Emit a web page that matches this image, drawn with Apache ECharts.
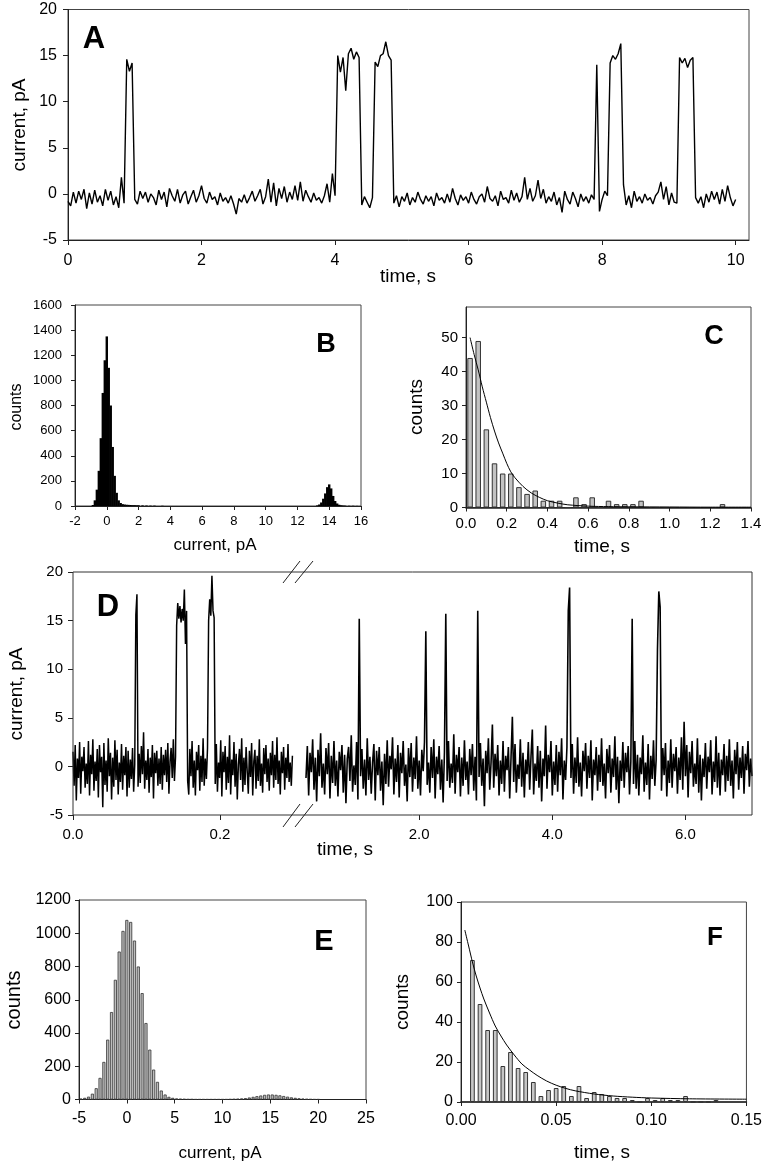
<!DOCTYPE html>
<html><head><meta charset="utf-8">
<script src="https://cdn.jsdelivr.net/npm/echarts@6.0.0/dist/echarts.min.js"></script>
<style>html,body{margin:0;padding:0;background:#fff}#c{width:765px;height:1166px}</style>
</head><body><div id="c"></div>
<script>
// ---------- Panel A: current trace, 10 s, sampled every 0.04 s ----------
const aStep = 0.04;
const aCurrent = [
 -0.8,-1.3,0.2,-1.0,0.3,-0.6,0.5,-1.6,0.1,-1.1,
 0.4,-0.9,-0.2,-1.3,0.5,-0.7,0.3,-1.2,-0.3,-1.5,
 1.8,-1.0,14.6,13.3,14.2,-0.6,-1.1,0.3,-0.5,0.2,
 -0.9,0.0,-0.4,-1.2,0.4,-0.6,0.2,-1.4,0.6,-0.2,
 -0.8,0.5,-1.0,-0.1,0.3,-1.1,-0.3,0.4,-0.9,-0.2,
 0.9,-0.5,-1.0,0.2,-0.6,-0.3,-1.2,0.1,-0.8,-0.4,
 -1.0,-0.2,-1.1,-2.2,-0.5,-0.9,-0.1,-1.0,-0.4,0.3,
 -0.8,-0.2,0.5,-1.1,-0.3,1.6,-0.9,1.2,-1.3,0.6,
 -0.5,0.8,-0.9,0.2,-0.6,0.9,-0.7,1.3,-0.8,0.4,
 -0.3,-0.9,0.1,-0.7,-0.4,-1.0,-0.2,1.1,-0.9,2.2,
 -0.2,15.0,13.2,14.8,11.2,15.2,15.8,14.6,15.4,14.8,
 -1.2,-0.3,-0.9,-1.5,-0.4,14.3,13.8,15.0,15.2,16.5,
 15.0,14.5,-1.0,-0.2,-1.4,-0.3,-0.8,0.1,-1.2,-0.4,
 -0.9,0.2,-0.6,-1.1,-0.2,-0.8,-0.3,-1.3,0.1,-0.7,
 -0.4,-1.0,0.0,-0.9,0.6,-0.5,-1.2,-0.1,-0.7,-0.3,
 -1.0,0.2,-0.6,-1.1,-0.3,0.0,-0.9,0.8,-0.5,-0.8,
 -0.2,-1.3,0.3,-0.6,-0.4,-1.0,0.4,-0.7,0.1,-0.9,
 -0.3,1.8,-0.6,0.6,-0.8,-0.2,1.5,-0.5,0.5,-1.0,
 -0.3,-0.8,0.2,-1.2,-0.4,-2.0,0.3,-0.6,-1.1,0.2,
 -0.5,-1.4,0.0,-0.8,-0.3,-1.0,-0.1,-0.6,14.0,-1.9,
 -0.6,0.3,-0.2,14.2,15.0,14.6,15.2,16.3,1.0,-1.2,
 -0.2,-1.5,0.3,-0.8,-0.3,-1.0,0.0,-0.7,-0.4,-1.1,
 -0.2,0.2,1.3,-0.6,0.8,-1.2,0.1,-0.9,-1.0,14.8,
 14.2,14.7,13.7,14.5,14.8,-0.4,-1.0,-0.3,-1.5,0.0,
 -0.9,0.3,-0.6,0.2,-1.1,0.5,-0.8,0.9,-0.4,-1.3,
 -0.6
];

// ---------- Panel B: all-points current histogram ----------
const bCurrent = [-0.875,-0.75,-0.625,-0.5,-0.375,-0.25,-0.125,0,0.125,0.25,
 0.375,0.5,0.625,0.75,0.875,1,1.125,1.25,1.375,1.5,
 1.625,1.75,1.875,2,2.25,2.5,2.75,3,3.5,13.25,
 13.375,13.5,13.625,13.75,13.875,14,14.125,14.25,14.375,14.5,
 14.625,14.75,14.875,15,15.25,15.5,15.75];
const bCounts = [8,45,130,280,540,900,1160,1350,1100,800,
 470,240,105,45,24,15,12,10,9,8,
 7,7,6,6,5,4,3,3,2,5,
 12,28,58,100,150,172,140,80,40,20,
 10,6,4,3,2,2,1];

// ---------- Panel C: dwell-time histogram + fit ----------
const cTime = [0.02,0.06,0.10,0.14,0.18,0.22,0.26,0.30,0.34,0.38,0.42,0.46,0.50,0.54,0.58,0.62,
 0.66,0.70,0.74,0.78,0.82,0.86,0.90,0.94,0.98,1.02,1.06,1.10,1.14,1.18,1.22,1.26];
const cCounts = [44,49,23,13,10,10,6,4,5,2,2,2,0,3,1,3,0,2,1,1,1,2,0,0,0,0,0,0,0,0,0,1];
const cFitTime = [0.02,0.04,0.06,0.08,0.10,0.12,0.14,0.16,0.18,0.20,0.22,0.24,0.28,0.32,0.36,0.40,0.45,0.50,0.60,0.70,0.80,1.00,1.20,1.40];
const cFitCounts = [50,45,40.5,35.5,31,26.5,22.5,19,16,13,10.5,8.8,6.2,4.3,3.0,2.0,1.3,0.8,0.4,0.25,0.2,0.15,0.1,0.1];

// ---------- Panel D: trace with broken time axis ----------
const d1Step = 0.0015;  // segment 1 : 0 .. 0.3 s
const d1Current = [
 1.5,-2.0,2.2,-3.5,0.8,-1.2,2.5,-2.8,1.0,-0.5,2.0,-2.2,0.3,-1.8,2.6,-3.0,1.2,-0.8,2.8,-2.5,
 0.5,-1.5,1.8,-3.2,2.2,-0.6,1.0,-4.2,2.4,-1.9,0.6,-2.6,2.9,-1.0,1.4,-3.4,0.9,-2.1,2.7,-1.4,
 1.7,-2.9,0.4,-1.6,2.3,-2.4,1.1,-0.9,2.0,-3.1,1.6,-2.2,0.7,-1.3,1.9,-2.6,0.2,15.6,17.7,-2.1,
 1.3,-1.7,2.1,-0.8,3.5,-2.3,0.6,-1.4,1.8,-2.7,0.9,-1.1,2.2,-3.3,1.4,-0.7,1.6,-2.0,0.8,-1.8,
 2.0,-2.4,1.2,-0.9,1.7,-1.6,2.4,-2.8,0.5,1.9,-1.2,2.8,-1.5,1.0,14.5,16.8,15.2,16.5,14.8,16.2,
 15.0,18.2,12.6,16.0,-1.5,-2.9,1.8,-1.0,2.6,-2.2,0.6,-3.0,1.5,-0.4,2.2,-2.5,1.1,-1.6,2.9,-2.0,
 0.8,-1.3,1.9,15.0,17.2,15.5,19.6,16.0,15.3,-1.8,2.3,-2.6,0.4,-1.2,2.7,-3.1,1.5,-0.6,2.1,-2.4,
 1.0,-1.7,3.2,-2.9,0.7,-0.9,2.5,-2.1,1.3,-3.4,0.2,1.8,-1.4,2.9,-2.6,0.9,-1.9,2.0,-0.5,-2.8,
 1.6,-1.1,2.4,-3.0,0.5,1.7,-2.3,1.1,-1.5,2.8,-2.0,0.3,-2.7,1.9,-0.8,2.2,-1.6,0.8,-2.5,1.4,
 -0.9,2.6,-2.2,1.2,-1.4,3.0,-1.8,0.6,-2.9,1.5,-0.7,2.0,-2.4,0.9,-1.2,2.3,-1.6,0.4,-2.0,1.1
];
const d2Start = 0.3, d2Step = 0.02;  // segment 2 : 0.3 .. 7.0 s
const d2Current = [
 -1.2,2.1,-3.0,1.4,-0.6,2.8,-2.4,0.9,-3.6,1.7,-1.0,3.4,-2.2,0.3,-2.9,1.9,-0.8,2.4,-3.3,1.1,
 -1.7,2.6,-2.0,0.6,-3.1,1.5,-0.4,2.2,-2.7,1.2,-3.8,0.8,2.0,-1.5,3.2,-2.6,0.1,-1.9,2.5,-3.4,
 15.2,-1.0,1.8,-2.3,0.7,-3.0,2.9,-1.4,1.0,-2.8,0.4,2.3,-3.5,1.6,-0.9,2.0,-2.5,0.5,-4.0,1.3,
 -1.8,2.7,-2.1,1.1,-0.3,3.0,-2.9,0.8,-1.6,2.2,-3.2,1.4,-0.7,2.6,-2.0,0.2,-3.6,1.9,-1.1,2.4,
 -2.6,0.9,-1.3,3.1,-2.3,0.6,-3.0,1.7,-0.5,2.5,13.9,-1.9,0.4,-2.7,2.0,-1.2,2.8,-3.3,1.0,-0.8,
 2.1,-2.4,0.7,-3.7,1.5,15.7,-1.5,2.6,-2.2,0.3,-1.7,3.3,-2.8,1.2,-0.6,2.0,-3.1,0.9,-2.0,2.7,
 -1.4,0.5,-2.9,1.8,-0.9,2.3,-2.5,1.0,-3.5,16.0,-1.1,2.4,-2.0,0.8,-4.1,1.6,-0.7,2.9,-2.4,0.4,
 4.3,-2.2,1.3,-1.0,2.2,-3.0,0.6,-1.8,2.6,-2.6,1.1,-0.4,2.0,-3.3,0.9,5.1,-1.6,2.3,-2.7,0.2,
 -1.3,2.8,-2.1,1.4,-3.2,0.7,-0.8,2.5,-2.4,1.0,3.8,-2.9,0.3,-1.5,2.1,-2.2,1.6,-3.6,0.8,-1.0,
 4.2,-2.3,1.2,-0.6,2.6,-3.0,0.5,-1.9,2.2,-2.6,1.5,-0.9,2.9,-3.4,0.6,-1.4,2.0,16.0,18.4,-1.2,
 2.3,-2.8,0.9,-1.7,3.0,-2.1,0.4,-3.1,1.6,-0.5,2.4,-2.3,1.1,-1.2,2.7,-3.5,0.7,-0.9,2.0,-2.5,
 1.2,-1.6,2.9,-2.0,0.3,-3.3,1.8,-0.7,2.2,-2.7,0.8,-1.1,3.1,-2.4,1.0,-3.8,0.6,-1.5,2.5,-2.2,
 1.4,-0.6,2.1,-2.9,0.5,15.2,-1.8,2.6,-2.3,1.2,-3.0,0.9,-0.8,3.2,-2.6,0.4,-1.9,2.3,-3.4,1.1,
 -1.3,2.7,-2.0,0.7,12.0,18.0,16.4,-2.5,1.9,-0.9,2.4,-3.1,0.6,-1.7,2.8,-2.2,1.3,-0.5,2.0,-2.8,
 0.9,-1.4,3.0,-2.4,4.6,-1.0,2.2,-3.2,1.5,-0.7,2.6,-2.1,0.3,-1.8,2.9,-2.7,1.2,-3.5,0.8,-1.1,
 2.4,-2.3,1.0,-0.6,2.7,-2.9,0.5,-1.6,3.1,-2.2,1.4,-3.0,0.7,-0.9,2.3,-2.6,1.1,-1.5,2.8,-2.0,
 0.6,-3.3,1.7,-0.8,2.5,-2.4,0.9,-1.2,2.1,-2.8,1.3,-0.4,2.6,-2.1,0.8,-1.0
];

// ---------- Panel E: all-points current histogram ----------
const eCurrent = [-4.8,-4.4,-4.0,-3.6,-3.2,-2.8,-2.4,-2.0,-1.6,-1.2,-0.8,-0.4,0,0.4,0.8,1.2,1.6,2.0,2.4,2.8,
 3.2,3.6,4.0,4.4,4.8,5.2,5.6,6.0,6.4,6.8,7.2,7.6,8.0,8.4,8.8,9.2,9.6,10.0,10.4,10.8,
 11.2,11.6,12.0,12.4,12.8,13.2,13.6,14.0,14.4,14.8,15.2,15.6,16.0,16.4,16.8,17.2,17.6,18.0,18.4,18.8,
 19.2,19.6,20.0];
const eCounts = [5,10,17,35,68,130,226,360,526,720,890,1014,1080,1068,956,800,640,460,300,180,
 106,54,30,16,10,6,4,3,2,2,1,1,1,1,1,1,1,1,1,2,
 3,4,6,8,12,16,20,24,28,30,30,28,25,21,17,13,10,7,5,3,
 2,1,1];

// ---------- Panel F: dwell-time histogram + fit ----------
const fTime = [0.006,0.010,0.014,0.018,0.022,0.026,0.030,0.034,0.038,0.042,0.046,0.050,0.054,0.058,0.062,0.066,
 0.070,0.074,0.078,0.082,0.086,0.090,0.094,0.098,0.102,0.106,0.110,0.114,0.118,0.122,0.126,0.130,0.134];
const fCounts = [71,49,36,36,18,25,17,15,10,3,6,7,8,3,8,2,5,4,3,2,2,1,0,2,1,2,1,1,3,0,0,0,1];
const fFitTime = [0.002,0.004,0.006,0.008,0.010,0.012,0.015,0.018,0.021,0.024,0.028,0.032,0.036,0.040,0.045,0.050,0.055,0.060,0.070,0.080,0.090,0.100,0.120,0.150];
const fFitCounts = [86,78,70,63,57,51.5,44.5,38,33,28.5,23.5,19,16,13.3,10.5,8.4,6.8,5.6,4,3,2.4,2,1.6,1.4];

// ---------- tick label lists ----------
const aTimeTicks = [0,2,4,6,8,10];
const aCurTicks = [-5,0,5,10,15,20];
const bCurTicks = [-2,0,2,4,6,8,10,12,14,16];
const bCountTicks = [0,200,400,600,800,1000,1200,1400,1600];
const cTimeTicks = [0,0.2,0.4,0.6,0.8,1.0,1.2,1.4];
const cCountTicks = [0,10,20,30,40,50];
const d1TimeTicks = [0,0.2];
const d2TimeTicks = [2,4,6];
const dCurTicks = [-5,0,5,10,15,20];
const eCurTicks = [-5,0,5,10,15,20,25];
const eCountTicks = [0,200,400,600,800,1000,1200];
const fTimeTicks = [0,0.05,0.10,0.15];
const fCountTicks = [0,20,40,60,80,100];

const FONT = '"Liberation Sans", Arial, Helvetica, sans-serif';
const zip = (xs, ys) => xs.map((x, i) => [x, ys[i]]);

function ax(g, min, max, ticks, fs, margin, fmt, o) {
  o = o || {};
  return {
    type: 'value', gridIndex: g, min: min, max: max, show: o.hide ? false : true,
    axisLine: {show: o.noLine ? false : true, onZero: false, lineStyle: {color: '#222', width: o.lw || 1}},
    axisTick: {show: true, inside: false, length: o.tl || 4, customValues: ticks, lineStyle: {color: '#222'}},
    axisLabel: {customValues: ticks, margin: margin, fontSize: fs, color: '#000', fontFamily: FONT,
      formatter: fmt || (v => String(v))},
    splitLine: {show: false}
  };
}
const f1 = v => v.toFixed(1), f2 = v => v.toFixed(2);
const frame = {show: true, borderColor: '#444', borderWidth: 1};

const grids = [
  Object.assign({left: 68, top: 9.5, width: 681, height: 230.5}, frame),   // A
  Object.assign({left: 75, top: 305, width: 286, height: 201}, frame),     // B
  Object.assign({left: 466, top: 307, width: 285, height: 200.5}, frame),  // C
  {left: 73, top: 572, width: 220, height: 243},                           // D1
  {left: 306, top: 572, width: 446, height: 243},                          // D2
  Object.assign({left: 79, top: 900, width: 287, height: 199.5}, frame),   // E
  Object.assign({left: 461, top: 902, width: 286, height: 200}, frame)     // F
];

const xAxes = [
  ax(0, 0, 10.2, aTimeTicks, 16, 13, null, {tl: 5}),
  ax(1, -2, 16, bCurTicks, 13, 9),
  ax(2, 0, 1.4, cTimeTicks, 15, 9, f1, {lw: 1.5}),
  ax(3, 0, 0.2993, d1TimeTicks, 15, 12, f1, {noLine: true, tl: 5}),
  ax(4, d2Start, 7.0, d2TimeTicks, 15, 12, f1, {noLine: true, tl: 5}),
  ax(5, -5, 25, eCurTicks, 16, 11),
  ax(6, 0, 0.15, fTimeTicks, 16, 11, f2, {lw: 1.5})
];
const yAxes = [
  ax(0, -5, 20, aCurTicks, 16, 11, null, {tl: 5}),
  ax(1, 0, 1600, bCountTicks, 13, 13),
  ax(2, 0, 59, cCountTicks, 15, 8),
  ax(3, -5, 20, dCurTicks, 15, 10, null, {noLine: true, tl: 5}),
  ax(4, -5, 20, dCurTicks, 15, 10, null, {hide: true}),
  ax(5, 0, 1200, eCountTicks, 16, 8),
  ax(6, 0, 100, fCountTicks, 16, 8)
];

const lineS = (xi, data, extra) => Object.assign({type: 'line', xAxisIndex: xi, yAxisIndex: xi, data: data,
  symbol: 'none', showSymbol: false, lineStyle: {color: '#000', width: 1}, itemStyle: {color: '#000'},
  animation: false, silent: true}, extra || {});
const barS = (xi, data, w, style) => ({type: 'bar', xAxisIndex: xi, yAxisIndex: xi, data: data,
  barWidth: w, itemStyle: style, animation: false, silent: true});

const series = [
  lineS(0, aCurrent.map((v, i) => [+(i * aStep).toFixed(4), v]), {lineStyle: {color: '#000', width: 1.4}}),
  barS(1, zip(bCurrent, bCounts), 2.4, {color: '#000'}),
  barS(2, zip(cTime, cCounts), 5.5, {color: '#c3c3c3', borderColor: '#333', borderWidth: 1}),
  lineS(2, zip(cFitTime, cFitCounts), {smooth: 0.3}),
  lineS(3, d1Current.map((v, i) => [+(i * d1Step).toFixed(5), v]), {lineStyle: {color: '#000', width: 1.5}}),
  lineS(4, d2Current.map((v, i) => [+(d2Start + i * d2Step).toFixed(4), v]), {lineStyle: {color: '#000', width: 1.6}}),
  barS(5, zip(eCurrent, eCounts), 3.1, {color: '#bdbdbd', borderColor: '#333', borderWidth: 0.8}),
  barS(6, zip(fTime, fCounts), 4.7, {color: '#c6c6c6', borderColor: '#333', borderWidth: 1}),
  lineS(6, zip(fFitTime, fFitCounts), {smooth: 0.3})
];

function txt(s, x, y, size, rot, bold) {
  return {type: 'text', x: x, y: y, rotation: rot ? Math.PI / 2 : 0, z: 100,
    style: {text: s, font: (bold ? 'bold ' : '') + size + 'px ' + FONT, fill: '#000',
      align: 'center', verticalAlign: 'middle', textAlign: 'center', textVerticalAlign: 'middle'}};
}
function seg(x1, y1, x2, y2) {
  return {type: 'line', z: 101, shape: {x1: x1, y1: y1, x2: x2, y2: y2}, style: {stroke: '#222', lineWidth: 1}};
}

const graphics = [
  // panel letters
  txt('A', 94, 39, 31, false, true),
  txt('B', 326, 345, 27, false, true),
  txt('C', 714, 337, 27, false, true),
  txt('D', 108, 607, 31, false, true),
  txt('E', 324, 942, 29, false, true),
  txt('F', 715, 938, 26, false, true),
  // axis titles
  txt('current, pA', 20, 125, 19, true),
  txt('time, s', 408, 277, 19),
  txt('counts', 17, 407, 16, true),
  txt('current, pA', 215, 545, 17),
  txt('counts', 417, 407, 19, true),
  txt('time, s', 602, 547, 19),
  txt('current, pA', 17, 694, 19, true),
  txt('time, s', 345, 850, 19),
  txt('counts', 14, 1000, 20, true),
  txt('current, pA', 220, 1153, 17),
  txt('counts', 403, 1002, 19, true),
  txt('time, s', 602, 1153, 19),
  // frame of panel D and axis-break marks
  {type: 'rect', z: 99, shape: {x: 73, y: 572, width: 679, height: 243}, style: {fill: 'none', stroke: '#333', lineWidth: 1}},
  seg(283, 583, 300, 561), seg(295, 583, 313, 561),
  seg(283, 827, 300, 804), seg(295, 827, 313, 804)
];

const chart = echarts.init(document.getElementById('c'), null, {renderer: 'canvas'});
chart.setOption({
  animation: false,
  backgroundColor: '#fff',
  grid: grids, xAxis: xAxes, yAxis: yAxes, series: series, graphic: graphics
});
</script></body></html>
